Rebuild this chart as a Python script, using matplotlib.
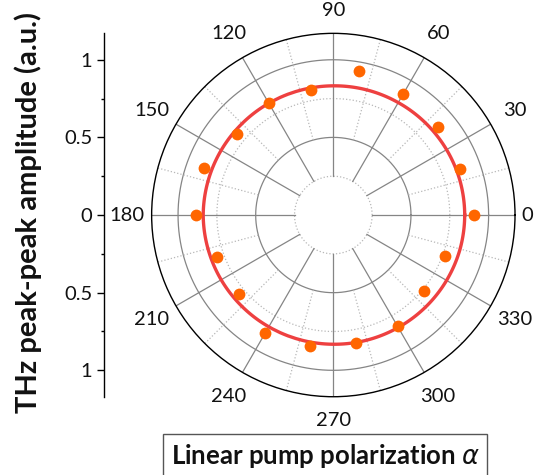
import numpy as np
import matplotlib
matplotlib.use('Agg')
import matplotlib.pyplot as plt

plt.rcParams['font.family'] = ['Lato', 'DejaVu Sans']
plt.rcParams['mathtext.fontset'] = 'dejavusans'

# measured THz peak-peak amplitude vs pump polarization angle (deg)
angleDeg = [0, 20, 40, 60, 80, 100, 120, 140, 160, 180, 200, 220, 240, 260, 280, 300, 320, 340]
amplitude = [0.903, 0.871, 0.882, 0.900, 0.939, 0.818, 0.834, 0.807, 0.883, 0.886,
             0.795, 0.794, 0.874, 0.858, 0.837, 0.828, 0.765, 0.767]

# fitted curve, every 15 deg
fitDeg = [0, 15, 30, 45, 60, 75, 90, 105, 120, 135, 150, 165, 180, 195, 210, 225,
          240, 255, 270, 285, 300, 315, 330, 345, 360]
fitAmp = [0.846, 0.845, 0.842, 0.839, 0.836, 0.834, 0.832, 0.831, 0.831, 0.832, 0.834, 0.836, 0.838,
          0.836, 0.834, 0.832, 0.831, 0.831, 0.832, 0.834, 0.836, 0.839, 0.842, 0.845, 0.846]

labelDeg = [0, 30, 60, 90, 120, 150, 180, 210, 240, 270, 300, 330]
ampTicks = [-1, -0.5, 0, 0.5, 1]
ampTickLabels = ['1', '0.5', '0', '0.5', '1']

rMax = 1.17
gridSolid = '#858585'
gridDot = '#b8b8b8'

fig = plt.figure(figsize=(5.35, 4.75), dpi=100)

# polar panel
ax = fig.add_axes([0.2834, 0.1648, 0.6793, 0.765], projection='polar')
ax.set_ylim(0, rMax)
ax.grid(False)
ax.set_xticks([])
ax.set_yticks([])
ax.spines['polar'].set_color('black')
ax.spines['polar'].set_linewidth(1.0)

ring = np.linspace(0, 2 * np.pi, 721)
for r, style, col in [(0.25, ':', gridDot), (0.5, '-', gridSolid), (0.75, ':', gridDot), (1.0, '-', gridSolid)]:
    ax.plot(ring, np.full_like(ring, r), linestyle=style, color=col, lw=0.9, zorder=1)

for a in range(0, 360, 30):
    ax.plot([np.deg2rad(a)] * 2, [0.25, rMax], color=gridSolid, lw=0.9, zorder=1)
for a in range(15, 360, 30):
    ax.plot([np.deg2rad(a)] * 2, [0.5, rMax], color=gridDot, lw=0.9, linestyle=':', zorder=1)

fitLine, = ax.plot(np.deg2rad(fitDeg), fitAmp, color='#ee4040', lw=2.4, zorder=3)
fitLine.get_path()._interpolation_steps = 30  # draw segments as arcs in polar space
ax.plot(np.deg2rad(angleDeg), amplitude, 'o', color='#ff6600', markersize=8.5, markeredgewidth=0, zorder=4)

labelR = {0: 1.25, 90: 1.32, 270: 1.32, 180: 1.33}
for a in labelDeg:
    ax.text(np.deg2rad(a), labelR.get(a, 1.35), str(a), ha='center', va='center',
            fontsize=14.5, color='#111111', clip_on=False)

# left amplitude scale
axL = fig.add_axes([0.1935, 0.1648, 0.001, 0.765])
axL.set_ylim(-rMax, rMax)
axL.set_xticks([])
for s in ['top', 'right', 'bottom']:
    axL.spines[s].set_visible(False)
axL.spines['left'].set_linewidth(1.0)
axL.set_yticks(ampTicks)
axL.set_yticklabels(ampTickLabels, fontsize=14.5, color='#111111')
axL.set_yticks(np.arange(-1, 1.01, 0.25), minor=True)
axL.tick_params(axis='y', which='major', length=5, width=1.0, pad=3)
axL.tick_params(axis='y', which='minor', length=2.5, width=1.0)
axL.patch.set_visible(False)

fig.text(0.052, 0.552, 'THz peak-peak amplitude (a.u.)', rotation=90, ha='center', va='center',
         fontsize=21, fontweight='bold', color='#111111')

fig.text(0.608, 0.023, r'Linear pump polarization $\alpha$', ha='center', va='baseline',
         fontsize=18.5, fontweight='bold', color='#111111',
         bbox=dict(boxstyle='square,pad=0.3', facecolor='white', edgecolor='#555555', linewidth=1.0))

fig.savefig('out.png', dpi=100)
